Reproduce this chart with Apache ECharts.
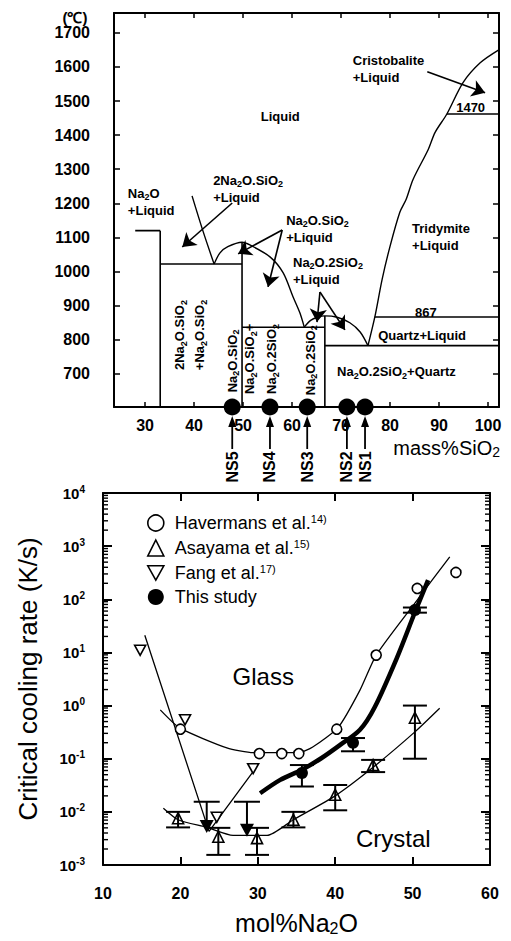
<!DOCTYPE html>
<html><head><meta charset="utf-8">
<script src="https://cdn.jsdelivr.net/npm/echarts@6/dist/echarts.min.js"></script>
<style>html,body{margin:0;padding:0;background:#fff}#c{width:511px;height:941px}</style>
</head><body><div id="c"></div>
<script>
const FONT = '"Liberation Sans", Arial, Helvetica, sans-serif';

// ---------------- Top: Na2O–SiO2 phase diagram (mass% SiO2, °C) ----------------
const phaseXTicks = [30, 40, 50, 60, 70, 80, 90, 100];
const phaseYTicks = [700, 800, 900, 1000, 1100, 1200, 1300, 1400, 1500, 1600, 1700];
const liquidusNa2O = [[39.6,1222],[41.8,1120],[44.1,1022]];
const liquidusNS = [[44.1,1022],[45.3,1055],[46.9,1073],[49.8,1086],[51.4,1078],[55.5,1043],[58.2,996],[60.2,926],[61.6,879],[62.5,837]];
const liquidusNS2 = [[62.5,837],[63.8,857],[65.2,866],[66.7,870],[69.2,866],[71.8,850],[73.9,823],[75.5,783]];
const liquidusSiO2 = [[75.5,783],[76.9,867],[78.4,978],[80.0,1074],[82.0,1174],[83.3,1212],[84.7,1270],[87.8,1358],[89.2,1408],[91.6,1462],[94.9,1554],[98.4,1612],[102.2,1650]];
const phaseTieLines = [
  [[28.0,1120],[33.1,1120]], [[33.1,1120],[33.1,603]],
  [[33.1,1022],[49.8,1022]], [[49.8,1086],[49.8,603]],
  [[49.8,837],[66.7,837]], [[66.7,870],[66.7,603]],
  [[66.7,783],[102.24,783]], [[76.9,867],[102.24,867]], [[91.6,1462],[102.24,1462]]
];
const phaseArrows = [
  [[47.8,1201],[37.6,1072]], [[58.0,1122],[49.0,1052]], [[58.0,1122],[55.1,955]],
  [[65.7,940],[65.1,852]], [[65.7,940],[70.8,829]], [[87.6,1586],[99.4,1524]]
];
const nsNames = ['NS5', 'NS4', 'NS3', 'NS2', 'NS1'];
const nsSiO2 = [47.8, 55.5, 63.1, 71.2, 74.9];
const phaseLabels = [
  {t:'Liquid', at:[57.6,1454], align:'center', va:'middle'},
  {t:'Cristobalite\n+Liquid', at:[72.4,1644]},
  {t:'1470', at:[93.5,1480], va:'middle'},
  {t:'Na_2O\n+Liquid', at:[26.5,1254]},
  {t:'2Na_2O.SiO_2\n+Liquid', at:[43.9,1292]},
  {t:'Na_2O.SiO_2\n+Liquid', at:[58.8,1175]},
  {t:'Na_2O.2SiO_2\n+Liquid', at:[60.2,1052]},
  {t:'Tridymite\n+Liquid', at:[84.5,1152]},
  {t:'867', at:[85.1,879], va:'middle'},
  {t:'Quartz+Liquid', at:[77.6,814], va:'middle'},
  {t:'Na_2O.2SiO_2+Quartz', at:[69.2,706], va:'middle'},
  {t:'2Na_2O.SiO_2', at:[37.1,814], rot:true},
  {t:'+Na_2O.SiO_2', at:[41.2,814], rot:true},
  {t:'Na_2O.SiO_2', at:[47.8,738], rot:true},
  {t:'Na_2O.SiO_2+', at:[51.4,744], rot:true},
  {t:'Na_2O.2SiO_2', at:[55.9,744], rot:true},
  {t:'Na_2O.2SiO_2', at:[63.7,740], rot:true}
];

// ---------------- Bottom: critical cooling rate vs mol% Na2O ----------------
const haverX = [20.0, 30.2, 33.1, 35.3, 40.2, 45.3, 50.6, 55.6];
const haverY = [0.36, 0.125, 0.125, 0.125, 0.36, 8.9, 160, 320];
const haverFitX = [17.4, 19.9, 26.0, 29.4, 35.3, 37.1, 40.4, 43.2, 45.3, 50.3, 54.8];
const haverFitY = [0.83, 0.38, 0.16, 0.13, 0.13, 0.166, 0.39, 1.95, 8.9, 85, 630];
const asaX = [19.7, 24.9, 29.9, 34.6, 40.0, 44.9, 50.3];
const asaY = [0.0076, 0.0034, 0.0032, 0.0071, 0.021, 0.076, 0.59];
const asaLo = [0.0051, 0.00155, 0.00155, 0.0051, 0.0107, 0.056, 0.10];
const asaHi = [0.010, 0.005, 0.005, 0.010, 0.032, 0.095, 1.0];
const asaFitX = [17.8, 19.7, 23.4, 26.8, 31.2, 34.6, 40.0, 44.9, 50.3, 53.5];
const asaFitY = [0.0117, 0.0071, 0.0051, 0.0036, 0.0036, 0.0071, 0.020, 0.069, 0.32, 0.89];
const fangX = [14.8, 20.6, 24.7, 29.4];
const fangY = [11, 0.54, 0.0079, 0.065];
const fangFitX = [15.4, 23.7, 29.3];
const fangFitY = [21, 0.0043, 0.055];
const studyX = [35.7, 42.3, 50.3];
const studyY = [0.054, 0.20, 63];
const studyLo = [0.030, 0.138, 56];
const studyHi = [0.076, 0.245, 70];
const studyFitX = [30.3, 32.9, 35.7, 38.2, 40.6, 43.2, 45.1, 48.0, 50.3, 52.0];
const studyFitY = [0.0224, 0.040, 0.062, 0.102, 0.18, 0.35, 0.93, 8.1, 57, 229];
const studyLimX = [23.4, 28.6];
const studyLimTop = [0.0155, 0.0155];
const studyLimTip = [0.0040, 0.0034];
const legendNames = ['Havermans et al.', 'Asayama et al.', 'Fang et al.', 'This study'];
const legendRefs = ['14)', '15)', '17)', ''];

const zip = (a, b) => a.map((v, i) => [v, b[i]]);
const zip3 = (a, b, c) => a.map((v, i) => [v, b[i], c[i]]);
function toRich(s, n, sb) {
  return s.split('\n').map(line => line.split(/_(\d)/).map((t, i) => i % 2 ? `{${sb}|${t}}` : (t ? `{${n}|${t}}` : '')).join('')).join('\n');
}

const chart = echarts.init(document.getElementById('c'), null, {renderer: 'svg', width: 511, height: 941});
const black = '#000';
const axisLineS = {show: true, onZero: false, lineStyle: {color: black, width: 2}};

const series = [];
[liquidusNa2O, liquidusNS, liquidusNS2, liquidusSiO2].forEach(c => series.push({
  type: 'line', xAxisIndex: 0, yAxisIndex: 0, data: c, symbol: 'none', smooth: 0.3,
  lineStyle: {color: black, width: 1.4}, silent: true, z: 3
}));
phaseTieLines.forEach(c => series.push({
  type: 'line', xAxisIndex: 0, yAxisIndex: 0, data: c, symbol: 'none',
  lineStyle: {color: black, width: 1.6}, silent: true, z: 3
}));
series.push({
  type: 'line', xAxisIndex: 0, yAxisIndex: 0, data: [], silent: true,
  markLine: {silent: true, symbol: ['none', 'arrow'], symbolSize: 13, label: {show: false},
    lineStyle: {color: black, width: 1.6, type: 'solid'}, emphasis: {disabled: true},
    data: phaseArrows.map(a => [{coord: a[0]}, {coord: a[1]}])}
});
series.push({
  type: 'scatter', xAxisIndex: 0, yAxisIndex: 0, data: nsSiO2.map(x => [x, 603]),
  symbol: 'circle', symbolSize: 17, itemStyle: {color: black, opacity: 1}, clip: false, silent: true, z: 6
});

// bottom chart
const thin = {color: black, width: 1.3};
series.push({type: 'line', xAxisIndex: 2, yAxisIndex: 2, data: zip(haverFitX, haverFitY), symbol: 'none', smooth: 0.2, lineStyle: thin, silent: true, z: 2});
series.push({type: 'line', xAxisIndex: 2, yAxisIndex: 2, data: zip(asaFitX, asaFitY), symbol: 'none', smooth: 0.2, lineStyle: thin, silent: true, z: 2});
series.push({type: 'line', xAxisIndex: 2, yAxisIndex: 2, data: zip(fangFitX, fangFitY), symbol: 'none', lineStyle: thin, silent: true, z: 2});
series.push({type: 'line', xAxisIndex: 2, yAxisIndex: 2, data: zip(studyFitX, studyFitY), symbol: 'none', smooth: 0.3, lineStyle: {color: black, width: 4.5}, silent: true, z: 2});

function errRender(params, api) {
  const x = api.value(0), lo = api.value(1), hi = api.value(2);
  const a = api.coord([x, hi]), b = api.coord([x, lo]);
  const w = 12, st = {stroke: black, lineWidth: 2};
  return {type: 'group', children: [
    {type: 'line', shape: {x1: a[0], y1: a[1], x2: b[0], y2: b[1]}, style: st},
    {type: 'line', shape: {x1: a[0] - w, y1: a[1], x2: a[0] + w, y2: a[1]}, style: st},
    {type: 'line', shape: {x1: b[0] - w, y1: b[1], x2: b[0] + w, y2: b[1]}, style: st}
  ]};
}
function limRender(params, api) {
  const x = api.value(0), top = api.value(1), tip = api.value(2);
  const a = api.coord([x, top]), b = api.coord([x, tip]);
  const st = {stroke: black, lineWidth: 2};
  return {type: 'group', children: [
    {type: 'line', shape: {x1: a[0] - 13, y1: a[1], x2: a[0] + 13, y2: a[1]}, style: st},
    {type: 'line', shape: {x1: a[0], y1: a[1], x2: b[0], y2: b[1] - 8}, style: st},
    {type: 'polygon', shape: {points: [[b[0] - 7, b[1] - 13], [b[0] + 7, b[1] - 13], [b[0], b[1]]]}, style: {fill: black}}
  ]};
}
series.push({type: 'custom', xAxisIndex: 2, yAxisIndex: 2, data: zip3(asaX, asaLo, asaHi), encode: {x: 0, y: [1, 2]}, renderItem: errRender, silent: true, z: 3});
series.push({type: 'custom', xAxisIndex: 2, yAxisIndex: 2, data: zip3(studyX, studyLo, studyHi), encode: {x: 0, y: [1, 2]}, renderItem: errRender, silent: true, z: 3});
series.push({type: 'custom', xAxisIndex: 2, yAxisIndex: 2, data: zip3(studyLimX, studyLimTop, studyLimTip), encode: {x: 0, y: [1, 2]}, renderItem: limRender, silent: true, z: 3});

series.push({name: legendNames[0], type: 'scatter', xAxisIndex: 2, yAxisIndex: 2, data: zip(haverX, haverY), symbol: 'circle', symbolSize: 10,
  itemStyle: {color: '#fff', borderColor: black, borderWidth: 1.6, opacity: 1}, silent: true, z: 5});
series.push({name: legendNames[1], type: 'scatter', xAxisIndex: 2, yAxisIndex: 2, data: zip(asaX, asaY), symbol: 'triangle', symbolSize: 11,
  itemStyle: {color: 'rgba(255,255,255,0)', borderColor: black, borderWidth: 1.6, opacity: 1}, silent: true, z: 5});
series.push({name: legendNames[2], type: 'scatter', xAxisIndex: 2, yAxisIndex: 2, data: zip(fangX, fangY), symbol: 'path://M0,0L20,0L10,18Z', symbolSize: [11, 10],
  itemStyle: {color: '#fff', borderColor: black, borderWidth: 1.6, opacity: 1}, silent: true, z: 5});
series.push({name: legendNames[3], type: 'scatter', xAxisIndex: 2, yAxisIndex: 2, data: zip(studyX, studyY), symbol: 'circle', symbolSize: 12,
  itemStyle: {color: black, opacity: 1}, silent: true, z: 5});

// log minor ticks (tick positions of the log axis)
const minorTicks = [];
for (let e = -3; e < 4; e++) for (let k = 2; k < 10; k++) minorTicks.push([10, k * Math.pow(10, e)]);
series.push({type: 'custom', xAxisIndex: 2, yAxisIndex: 2, data: minorTicks, encode: {x: 0, y: 1}, silent: true, z: 4,
  renderItem: (p, api) => {
    const v = api.value(1), l = api.coord([10, v]), r = api.coord([60, v]);
    const st = {stroke: black, lineWidth: 1.4};
    return {type: 'group', children: [
      {type: 'line', shape: {x1: l[0], y1: l[1], x2: l[0] + 5, y2: l[1]}, style: st},
      {type: 'line', shape: {x1: r[0] - 5, y1: r[1], x2: r[0], y2: r[1]}, style: st}
    ]};
  }});

const phaseTickLabel = {fontSize: 16, fontWeight: 'bold', color: black, fontFamily: FONT, formatter: v => String(v)};
const option = {
  animation: false,
  backgroundColor: '#fff',
  textStyle: {fontFamily: FONT, color: black},
  grid: [
    {left: 114, top: 13, width: 385, height: 394, outerBoundsMode: 'none', containLabel: false},
    {left: 103, top: 493, width: 387, height: 372, outerBoundsMode: 'none', containLabel: false}
  ],
  xAxis: [
    {gridIndex: 0, type: 'value', min: 23.67, max: 102.24, position: 'bottom', axisLine: axisLineS,
      axisTick: {inside: true, length: 5, customValues: phaseXTicks, lineStyle: {color: black, width: 1.5}},
      axisLabel: Object.assign({customValues: phaseXTicks, margin: 10}, phaseTickLabel), splitLine: {show: false}},
    {gridIndex: 0, type: 'value', min: 23.67, max: 102.24, position: 'top', axisLine: axisLineS,
      axisTick: {inside: true, length: 5, customValues: phaseXTicks, lineStyle: {color: black, width: 1.5}},
      axisLabel: {show: false}, splitLine: {show: false}},
    {gridIndex: 1, type: 'value', min: 10, max: 60, interval: 10, position: 'bottom', axisLine: axisLineS,
      axisTick: {inside: true, length: 8, lineStyle: {color: black, width: 2}},
      axisLabel: {fontSize: 16, fontWeight: 'bold', color: black, fontFamily: FONT, margin: 20},
      splitLine: {show: false},
      name: '{n|mol%Na}{s|2}{n|O}', nameLocation: 'middle', nameGap: 45,
      nameTextStyle: {color: black, rich: {n: {fontSize: 25, fontFamily: FONT, color: black, lineHeight: 26}, s: {fontSize: 16, fontFamily: FONT, color: black, lineHeight: 14, verticalAlign: 'bottom'}}}},
    {gridIndex: 1, type: 'value', min: 10, max: 60, interval: 10, position: 'top', axisLine: axisLineS,
      axisTick: {inside: true, length: 8, lineStyle: {color: black, width: 2}},
      axisLabel: {show: false}, splitLine: {show: false}}
  ],
  yAxis: [
    {gridIndex: 0, type: 'value', min: 603, max: 1758, position: 'left', axisLine: axisLineS,
      axisTick: {inside: true, length: 6, customValues: phaseYTicks, lineStyle: {color: black, width: 1.5}},
      axisLabel: Object.assign({customValues: phaseYTicks, margin: 24}, phaseTickLabel), splitLine: {show: false}},
    {gridIndex: 0, type: 'value', min: 603, max: 1758, position: 'right', axisLine: axisLineS,
      axisTick: {inside: true, length: 6, customValues: phaseYTicks, lineStyle: {color: black, width: 1.5}},
      axisLabel: {show: false}, splitLine: {show: false}},
    {gridIndex: 1, type: 'log', logBase: 10, min: 0.001, max: 10000, splitNumber: 7, position: 'left', axisLine: axisLineS,
      axisTick: {inside: true, length: 9, lineStyle: {color: black, width: 2}},
      axisLabel: {margin: 18, color: black, formatter: v => '{b|10}{e|' + Math.round(Math.log10(v)) + '}',
        rich: {b: {fontSize: 15, fontWeight: 'bold', fontFamily: FONT, color: black, lineHeight: 18},
               e: {fontSize: 10, fontWeight: 'bold', fontFamily: FONT, color: black, lineHeight: 10, verticalAlign: 'top'}}},
      splitLine: {show: false},
      name: 'Critical cooling rate (K/s)', nameLocation: 'middle', nameGap: 62,
      nameTextStyle: {fontSize: 26, fontFamily: FONT, color: black}},
    {gridIndex: 1, type: 'log', logBase: 10, min: 0.001, max: 10000, splitNumber: 7, position: 'right', axisLine: axisLineS,
      axisTick: {inside: true, length: 9, lineStyle: {color: black, width: 2}},
      axisLabel: {show: false}, splitLine: {show: false}}
  ],
  legend: {
    orient: 'vertical', left: 142, top: 508, itemWidth: 16, itemHeight: 16, itemGap: 6, selectedMode: false,
    data: [
      {name: legendNames[0], icon: 'circle', itemStyle: {color: '#fff', borderColor: black, borderWidth: 1.6}},
      {name: legendNames[1], icon: 'triangle', itemStyle: {color: '#fff', borderColor: black, borderWidth: 1.6}},
      {name: legendNames[2], icon: 'path://M0,0L20,0L10,18Z', itemStyle: {color: '#fff', borderColor: black, borderWidth: 1.6}},
      {name: legendNames[3], icon: 'circle', itemStyle: {color: black}}
    ],
    formatter: n => { const r = legendRefs[legendNames.indexOf(n)]; return '{a|' + n + '}' + (r ? '{s|' + r + '}' : ''); },
    textStyle: {color: black, rich: {
      a: {fontSize: 18, fontFamily: FONT, color: black, lineHeight: 20, padding: [0, 0, 0, 6]},
      s: {fontSize: 11, fontFamily: FONT, color: black, lineHeight: 10, verticalAlign: 'top'}}}
  },
  series: series
};
chart.setOption(option);

// ---------------- annotations ----------------
const P0 = v => chart.convertToPixel({xAxisIndex: 0, yAxisIndex: 0}, v);
const P1 = v => chart.convertToPixel({xAxisIndex: 2, yAxisIndex: 2}, v);
const phaseRich = {
  p: {fontSize: 13, fontWeight: 'bold', fontFamily: FONT, fill: black, lineHeight: 17},
  q: {fontSize: 9, fontWeight: 'bold', fontFamily: FONT, fill: black, lineHeight: 9, verticalAlign: 'bottom'}
};
const g = [];
phaseLabels.forEach(l => {
  const p = P0(l.at);
  g.push({type: 'text', x: p[0], y: p[1], rotation: l.rot ? Math.PI / 2 : 0, silent: true, z: 10,
    style: {text: toRich(l.t, 'p', 'q'), rich: phaseRich, fill: black,
      align: l.rot ? 'center' : (l.align || 'left'), verticalAlign: l.rot ? 'middle' : (l.va || 'top')}});
});
g.push({type: 'text', x: 75, y: 17, silent: true, style: {text: '(℃)', font: 'bold 15px ' + FONT, fill: black, align: 'center', verticalAlign: 'middle'}});
const axisY = P0([30, 603])[1];
nsSiO2.forEach((x, i) => {
  const px = chart.convertToPixel({xAxisIndex: 0}, x);
  g.push({type: 'line', silent: true, shape: {x1: px, y1: axisY + 42, x2: px, y2: axisY + 17}, style: {stroke: black, lineWidth: 1.8}});
  g.push({type: 'polygon', silent: true, shape: {points: [[px - 4, axisY + 20], [px + 4, axisY + 20], [px, axisY + 9]]}, style: {fill: black}});
  g.push({type: 'text', x: px, y: axisY + 60, rotation: Math.PI / 2, silent: true,
    style: {text: nsNames[i], font: 'bold 16px ' + FONT, fill: black, align: 'center', verticalAlign: 'middle'}});
});
g.push({type: 'text', x: 500, y: axisY + 41, silent: true,
  style: {text: '{m|mass%SiO}{s|2}', align: 'right', verticalAlign: 'middle', fill: black,
    rich: {m: {fontSize: 20, fontFamily: FONT, fill: black, lineHeight: 22}, s: {fontSize: 14, fontFamily: FONT, fill: black, lineHeight: 12, verticalAlign: 'bottom'}}}});
const glass = P1([30.7, 3.5]), crystal = P1([47.5, 0.0032]);
g.push({type: 'text', x: glass[0], y: glass[1], silent: true, style: {text: 'Glass', font: '24px ' + FONT, fill: black, align: 'center', verticalAlign: 'middle'}});
g.push({type: 'text', x: crystal[0], y: crystal[1], silent: true, style: {text: 'Crystal', font: '24px ' + FONT, fill: black, align: 'center', verticalAlign: 'middle'}});
chart.setOption({graphic: g});
</script></body></html>
